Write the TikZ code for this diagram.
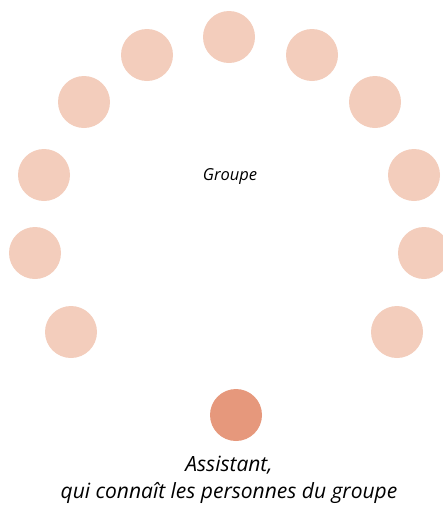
\documentclass[tikz,border=0pt]{standalone}
\usepackage{fontspec}
\setmainfont{Open Sans}
\usepackage{xcolor}
\usepackage{tikz}

\definecolor{membre}{RGB}{243,205,188}
\definecolor{assist}{RGB}{230,152,124}

\begin{document}
\begin{tikzpicture}[x=1pt,y=-1pt,
    person/.style={circle, fill=membre, draw=none, minimum size=52pt, inner sep=0pt},
    assistant/.style={person, fill=assist},
    label/.style={font=\itshape, align=center}]
    \useasboundingbox (0,0) rectangle (442,517);
    \foreach \x/\y/\n in {229/37/m1, 147/55/m2, 312/55/m3, 84/102/m4, 375/102/m5,
      44/175/m6, 414/175/m7, 35/253/m8, 424/253/m9, 71/332/m10, 397/332/m11} {
      \node[person] (\n) at (\x,\y) {};
    }
    \node[label, font=\itshape\fontsize{16.5}{19}\selectfont] (groupe) at (230,176) {Groupe};
    \node[assistant] (assistant) at (236,415) {};
    \node[label, font=\itshape\fontsize{21}{27}\selectfont] (legende) at (229,480)
      {Assistant,\\qui connaît les personnes du groupe};
\end{tikzpicture}
\end{document}
